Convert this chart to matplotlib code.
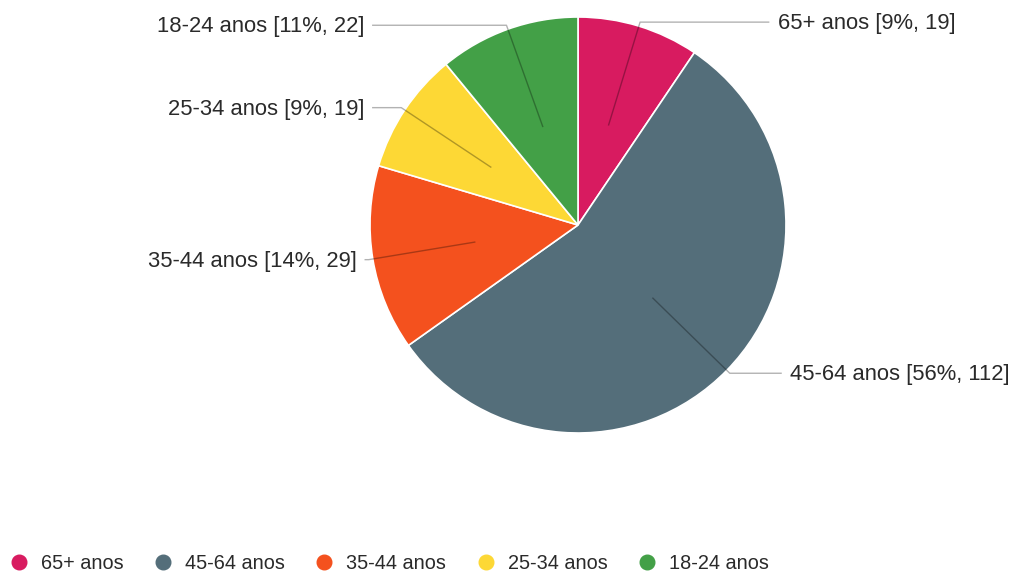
import numpy as np
import matplotlib.pyplot as plt
from matplotlib.lines import Line2D

# faixas etárias, na ordem em que aparecem no gráfico (sentido horário a partir do topo)
faixas = ['65+ anos', '45-64 anos', '35-44 anos', '25-34 anos', '18-24 anos']
respostas = [19, 112, 29, 19, 22]
cores = ['#D81B60', '#546E7A', '#F4511E', '#FDD835', '#43A047']

plt.rcParams['font.family'] = ['Liberation Sans', 'DejaVu Sans']

W, H, DPI = 1026, 574, 100
fig = plt.figure(figsize=(W / DPI, H / DPI), dpi=DPI)
ax = fig.add_axes([0, 0, 1, 1])

# pie centre and radius in pixels, axis limits keep 1 unit = R px both ways
cx, cy, R = 578, 225, 208
ax.pie(respostas, colors=cores, startangle=90, counterclock=False,
       radius=1, center=(0, 0),
       wedgeprops=dict(edgecolor='white', linewidth=1.2))
ax.set_xlim(-cx / R, (W - cx) / R)
ax.set_ylim(-(H - cy) / R, cy / R)
ax.set_aspect('auto')
ax.axis('off')

total = sum(respostas)
acum = 0
for faixa, v in zip(faixas, respostas):
    meio = 90 - (acum + v / 2) / total * 360
    acum += v
    a = np.deg2rad(meio)
    ux, uy = np.cos(a), np.sin(a)
    x0, y0 = 0.5 * ux, 0.5 * uy
    x1, y1 = 1.02 * ux, 1.02 * uy
    pct = round(v / total * 100)
    texto = f'{faixa} [{pct}%, {v}]'
    if ux >= 0:
        x2 = max(x1 + 0.25, 0.92)
        xt, ha = x2 + 0.04, 'left'
    else:
        x2 = min(x1 - 0.02, -0.99)
        xt, ha = x2 - 0.035, 'right'
    ax.plot([x0, x1, x2], [y0, y1, y1], color='black', alpha=0.3, lw=1,
            solid_capstyle='butt')
    ax.text(xt, y1 - 0.008, texto, ha=ha, va='center', fontsize=15.8,
            color='#2a2a2a')

# legenda em linha na parte de baixo
alcas = [Line2D([], [], marker='o', linestyle='none', markersize=10.5,
                markerfacecolor=c, markeredgecolor=c) for c in cores]
fig.legend(alcas, faixas, loc='lower left', bbox_to_anchor=(-0.005, -0.023),
           ncol=5, frameon=False, fontsize=14.3, handletextpad=0.6,
           columnspacing=1.5, handlelength=1.0, labelcolor='#2a2a2a',
           borderaxespad=0.3)

fig.savefig('out.png', dpi=DPI, facecolor='white')
